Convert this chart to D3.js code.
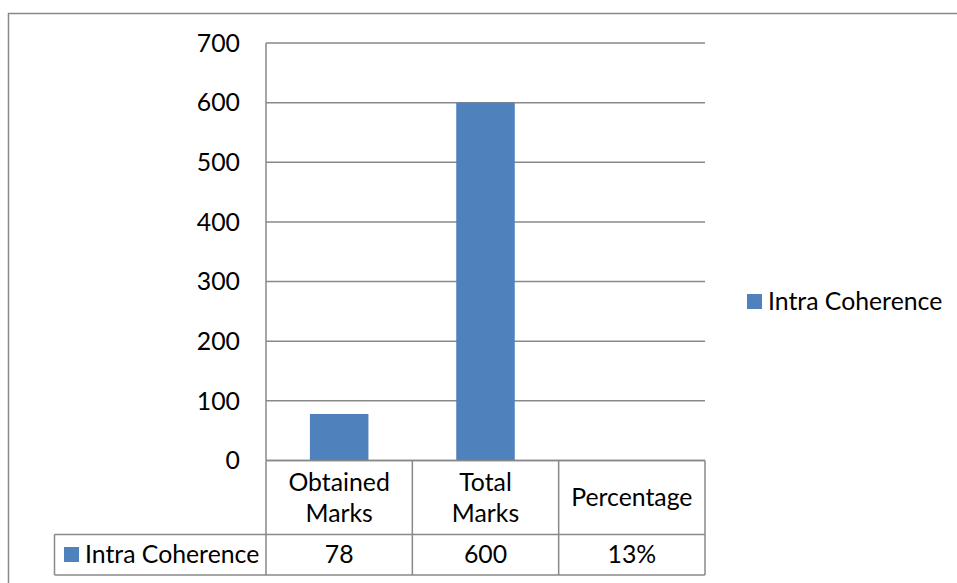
<!DOCTYPE html>
<html>
<head>
<meta charset="utf-8">
<script src="https://cdn.jsdelivr.net/npm/d3@7"></script>
<style>
  html, body { margin: 0; padding: 0; background: #fff; }
  svg { display: block; font-family: Lato, "Open Sans", sans-serif; }
</style>
</head>
<body>
<svg id="chart" width="957" height="583"></svg>
<script>
// Chart data
const categories = [["Obtained", "Marks"], ["Total", "Marks"], ["Percentage"]];
const categoryKeys = ["Obtained Marks", "Total Marks", "Percentage"];
const seriesName = "Intra Coherence";
const seriesValues = [78, 600, 0.13];
const tableLabels = ["78", "600", "13%"];
const yTicks = [0, 100, 200, 300, 400, 500, 600, 700];

const barColor = "#4F81BD";
const lineColor = "#898989";
const fontSize = 24.8;

const svg = d3.select("#chart");

// Outer chart frame (runs past the right and bottom edges)
svg.append("rect")
  .attr("x", 8.5).attr("y", 13.5)
  .attr("width", 1000).attr("height", 700)
  .attr("fill", "none").attr("stroke", lineColor).attr("stroke-width", 1.5);

const plot = { left: 266, right: 705, top: 43, bottom: 460.5 };

const y = d3.scaleLinear().domain([0, 700]).range([plot.bottom, plot.top]);
const x = d3.scaleBand().domain(categoryKeys).range([plot.left, plot.right]).paddingInner(0).paddingOuter(0);

// Gridlines
svg.append("g")
  .selectAll("line")
  .data(yTicks)
  .join("line")
  .attr("x1", plot.left).attr("x2", plot.right)
  .attr("y1", d => y(d)).attr("y2", d => y(d))
  .attr("stroke", lineColor).attr("stroke-width", 1.5);

// Y axis line
svg.append("line")
  .attr("x1", plot.left).attr("x2", plot.left)
  .attr("y1", plot.top).attr("y2", plot.bottom)
  .attr("stroke", lineColor).attr("stroke-width", 1.5);

// Y tick labels
svg.append("g")
  .selectAll("text")
  .data(yTicks)
  .join("text")
  .attr("x", 240)
  .attr("y", d => y(d))
  .attr("dy", "0.35em")
  .attr("text-anchor", "end")
  .attr("font-size", fontSize)
  .attr("fill", "#000")
  .text(d => d);

// Bars
const barW = x.bandwidth() * 0.4;
svg.append("g")
  .selectAll("rect")
  .data(seriesValues)
  .join("rect")
  .attr("x", (d, i) => x(categoryKeys[i]) + (x.bandwidth() - barW) / 2)
  .attr("y", d => y(d))
  .attr("width", barW)
  .attr("height", d => y(0) - y(d))
  .attr("fill", barColor);

// Data table
const rowTop = plot.bottom;
const rowMid = 534.5;
const rowBot = 575;
const headLeft = 54.5;
const table = svg.append("g").attr("stroke", lineColor).attr("stroke-width", 1.5);

// horizontal rules
table.append("line").attr("x1", plot.left).attr("x2", plot.right).attr("y1", rowTop).attr("y2", rowTop);
table.append("line").attr("x1", headLeft).attr("x2", plot.right).attr("y1", rowMid).attr("y2", rowMid);
table.append("line").attr("x1", headLeft).attr("x2", plot.right).attr("y1", rowBot).attr("y2", rowBot);
// vertical rules
table.append("line").attr("x1", headLeft).attr("x2", headLeft).attr("y1", rowMid).attr("y2", rowBot);
const colEdges = categoryKeys.map(k => x(k)).concat([plot.right]);
table.selectAll("line.col")
  .data(colEdges)
  .join("line")
  .attr("class", "col")
  .attr("x1", d => d).attr("x2", d => d)
  .attr("y1", rowTop).attr("y2", rowBot);

// category header labels
const catG = svg.append("g");
categories.forEach((lines, i) => {
  const cx = x(categoryKeys[i]) + x.bandwidth() / 2;
  const cy = (rowTop + rowMid) / 2;
  const lh = 31;
  lines.forEach((ln, j) => {
    catG.append("text")
      .attr("x", cx)
      .attr("y", cy + (j - (lines.length - 1) / 2) * lh)
      .attr("dy", "0.35em")
      .attr("text-anchor", "middle")
      .attr("font-size", fontSize)
      .text(ln);
  });
});

// value row
svg.append("g")
  .selectAll("text")
  .data(tableLabels)
  .join("text")
  .attr("x", (d, i) => x(categoryKeys[i]) + x.bandwidth() / 2)
  .attr("y", (rowMid + rowBot) / 2)
  .attr("dy", "0.35em")
  .attr("text-anchor", "middle")
  .attr("font-size", fontSize)
  .text(d => d);

// row header with legend key
svg.append("rect").attr("x", 64).attr("y", 547).attr("width", 15).attr("height", 15).attr("fill", barColor);
svg.append("text")
  .attr("x", 85).attr("y", (rowMid + rowBot) / 2).attr("dy", "0.35em")
  .attr("font-size", fontSize).text(seriesName);

// Legend
svg.append("rect").attr("x", 747).attr("y", 294).attr("width", 15).attr("height", 15).attr("fill", barColor);
svg.append("text")
  .attr("x", 768).attr("y", 301.5).attr("dy", "0.35em")
  .attr("font-size", fontSize).text(seriesName);
</script>
</body>
</html>
